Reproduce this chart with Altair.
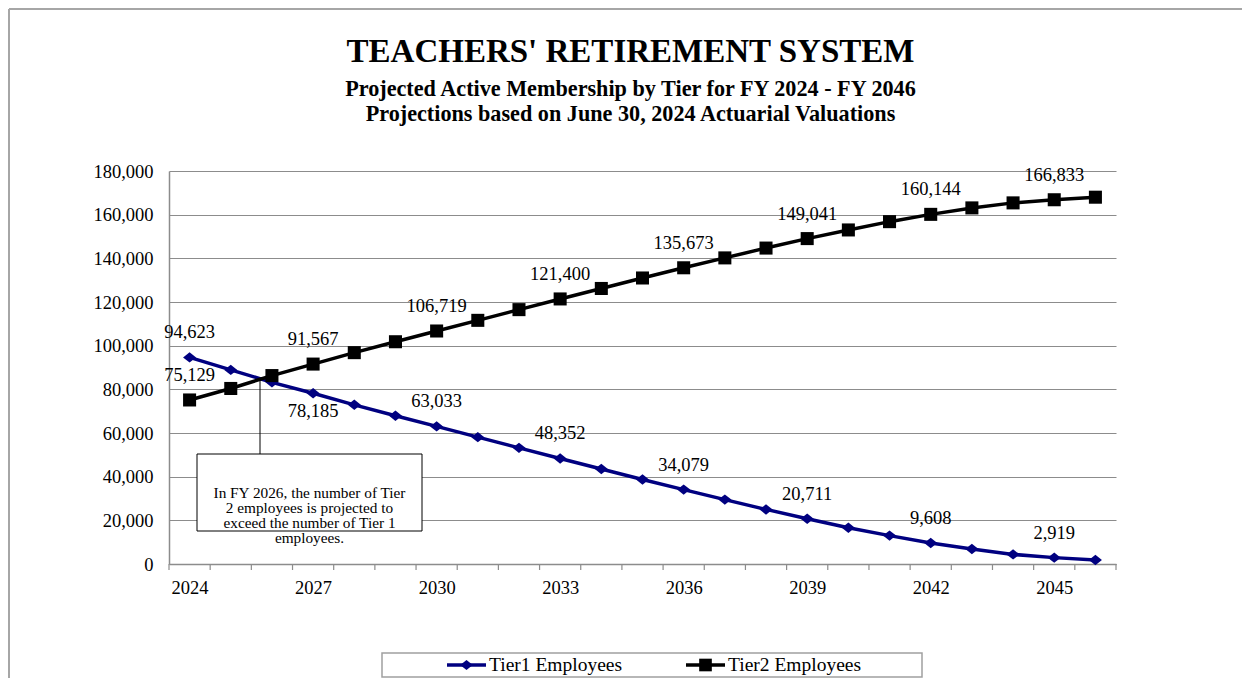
import altair as alt
import pandas as pd

# ---------------- data ----------------
years = list(range(2024, 2047))
tier1 = [94623, 88900, 83200, 78185, 72900, 67900, 63033, 58100, 53200, 48352,
         43500, 38700, 34079, 29500, 25000, 20711, 16600, 13000, 9608, 6900,
         4400, 2919, 1800]
tier2 = [75129, 80400, 86300, 91567, 96800, 101800, 106719, 111600, 116500, 121400,
         126200, 131000, 135673, 140200, 144700, 149041, 153000, 156800, 160144, 163100,
         165400, 166833, 168000]
series_names = ["Tier1 Employees", "Tier2 Employees"]
series_colors = ["#000080", "#000000"]
label_years = [2024, 2027, 2030, 2033, 2036, 2039, 2042, 2045]
tier1_labels_below = [2027]
y_ticks = list(range(0, 180001, 20000))
x_label_years = [2024, 2027, 2030, 2033, 2036, 2039, 2042, 2045]
x_boundaries = [y - 0.5 for y in years] + [years[-1] + 0.5]

title_lines = ["TEACHERS' RETIREMENT SYSTEM",
               "Projected Active Membership by Tier for FY 2024 - FY 2046",
               "Projections based on June 30, 2024 Actuarial Valuations"]
note_lines = ["In FY 2026, the number of Tier",
              "2 employees is projected to",
              "exceed the number of Tier 1",
              "employees."]

# ---------------- layout ----------------
W, H = 947, 393
FONT = "Liberation Serif"
GRID = "#8c8c8c"
DIAMOND = "M0,-0.8L1,0L0,0.8L-1,0Z"
FS = 18.5

df = pd.DataFrame({
    "Year": years * 2,
    "Value": tier1 + tier2,
    "Series": [series_names[0]] * len(years) + [series_names[1]] * len(years),
})
df["Label"] = df["Value"].map(lambda v: f"{v:,}")
df["IsLabel"] = df["Year"].isin(label_years)
df["Below"] = (df["Series"] == series_names[0]) & df["Year"].isin(tier1_labels_below)

x_scale = alt.Scale(domain=[years[0] - 0.5, years[-1] + 0.5], nice=False, zero=False)
x_enc = alt.X(
    "Year:Q", scale=x_scale,
    axis=alt.Axis(
        values=x_label_years, format="d", title=None, grid=False, ticks=False,
        labelOverlap=False, labelFlush=False,
        labelFont=FONT, labelFontSize=FS, labelColor="#000000", labelPadding=14,
        domainColor=GRID, domainWidth=1.5,
    ),
)
y_enc = alt.Y(
    "Value:Q",
    scale=alt.Scale(domain=[0, 180000], nice=False),
    axis=alt.Axis(
        values=y_ticks, format=",d", title=None, grid=True, gridColor=GRID,
        gridWidth=1.2, ticks=False, labelPadding=16, domainColor=GRID, domainWidth=1.5,
        labelFont=FONT, labelFontSize=FS, labelColor="#000000",
    ),
)
color_enc = alt.Color("Series:N", scale=alt.Scale(domain=series_names, range=series_colors), legend=None)

base = alt.Chart(df)
lines = base.mark_line(strokeWidth=3.5).encode(x=x_enc, y=y_enc, color=color_enc, detail="Series:N")
points = base.mark_point(filled=True, opacity=1, size=170).encode(
    x=alt.X("Year:Q", scale=x_scale), y="Value:Q", color=color_enc,
    shape=alt.Shape("Series:N", scale=alt.Scale(domain=series_names, range=[DIAMOND, "square"]), legend=None),
)
lab_above = base.transform_filter("datum.IsLabel && !datum.Below").mark_text(
    font=FONT, fontSize=FS, color="#000000", dy=-25, baseline="middle"
).encode(x=alt.X("Year:Q", scale=x_scale), y="Value:Q", text="Label:N")
lab_below = base.transform_filter("datum.IsLabel && datum.Below").mark_text(
    font=FONT, fontSize=FS, color="#000000", dy=18, baseline="middle"
).encode(x=alt.X("Year:Q", scale=x_scale), y="Value:Q", text="Label:N")

# category tick marks at the boundaries between years
ticks = alt.Chart(pd.DataFrame({"B": x_boundaries})).mark_rule(color=GRID, strokeWidth=1.2).encode(
    x=alt.X("B:Q", scale=x_scale), y=alt.value(H), y2=alt.value(H + 6))

one = pd.DataFrame({"k": [0]})

# outer border (top and left edges)
border_top = alt.Chart(one).mark_rule(color="#a6a6a6", strokeWidth=2).encode(
    x=alt.value(-160), x2=alt.value(W + 200), y=alt.value(-162))
border_left = alt.Chart(one).mark_rule(color="#a6a6a6", strokeWidth=2).encode(
    x=alt.value(-160), y=alt.value(-162), y2=alt.value(H + 200))

# titles
title_layers = []
for txt, yy, fs in zip(title_lines, [-109, -75, -50], [33, 22.2, 22.2]):
    title_layers.append(alt.Chart(one).mark_text(
        font=FONT, fontSize=fs, fontWeight="bold", color="#000000", align="center", baseline="alphabetic"
    ).encode(x=alt.value(461.5), y=alt.value(yy), text=alt.value(txt)))

# annotation
leader = alt.Chart(one).mark_rule(color="#000000", strokeWidth=1).encode(
    x=alt.value(91), y=alt.value(207), y2=alt.value(283))
note_box = alt.Chart(one).mark_rect(fill="#ffffff", stroke="#000000", strokeWidth=1).encode(
    x=alt.value(28), x2=alt.value(253), y=alt.value(283), y2=alt.value(360))
note_text = alt.Chart(one).mark_text(
    font=FONT, fontSize=15.3, lineHeight=15, color="#000000", align="center", baseline="middle"
).encode(x=alt.value(140.5), y=alt.value(321.5), text=alt.value(note_lines))

# legend
leg_box = alt.Chart(one).mark_rect(fill="#ffffff", stroke="#a0a0a0", strokeWidth=1.5).encode(
    x=alt.value(213), x2=alt.value(753), y=alt.value(482), y2=alt.value(506))
leg_layers = [leg_box]
leg_pos = [(278, 320), (517, 559)]
leg_shapes = [DIAMOND, "square"]
for name, col, shp, (lx, tx) in zip(series_names, series_colors, leg_shapes, leg_pos):
    leg_layers.append(alt.Chart(one).mark_rule(color=col, strokeWidth=3.5).encode(
        x=alt.value(lx), x2=alt.value(lx + 39), y=alt.value(494)))
    leg_layers.append(alt.Chart(one).mark_point(filled=True, opacity=1, color=col, size=160, shape=shp).encode(
        x=alt.value(lx + 19.5), y=alt.value(494)))
    leg_layers.append(alt.Chart(one).mark_text(
        font=FONT, fontSize=19.5, color="#000000", align="left", baseline="middle"
    ).encode(x=alt.value(tx), y=alt.value(494), text=alt.value(name)))

chart = alt.layer(
    border_top, border_left, lines, points, ticks, lab_above, lab_below, leader, note_box, note_text,
    *title_layers, *leg_layers
).properties(
    width=W, height=H,
    padding={"left": 161, "top": 163, "right": 126, "bottom": 114},
    autosize=alt.AutoSizeParams(type="none"),
    background="#ffffff",
).configure_view(stroke=None)

chart.save("out.html", embed_options={"renderer": "svg", "actions": False})
